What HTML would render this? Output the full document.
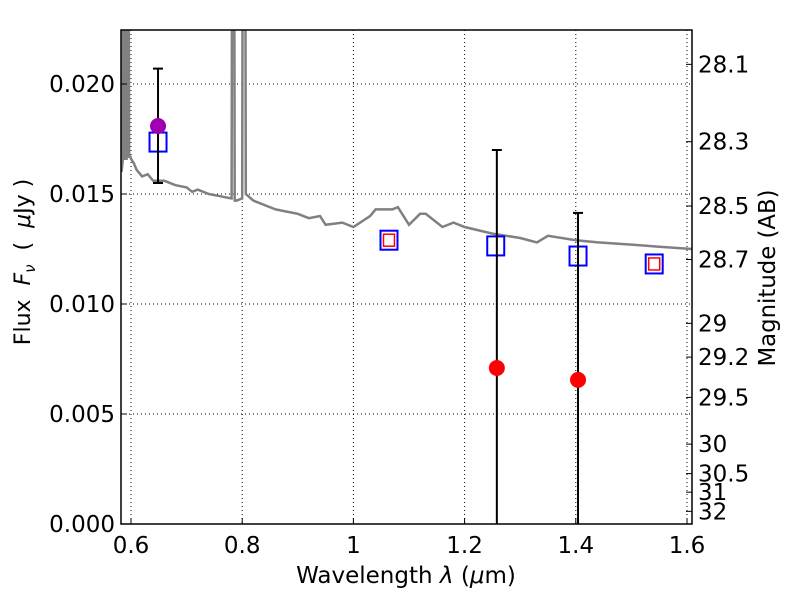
<!DOCTYPE html>
<html><head><meta charset="utf-8"><style>
body{margin:0;background:#fff}
text{font-family:"DejaVu Sans","Liberation Sans",sans-serif;fill:#000}
</style></head><body>
<svg id="chart" width="800" height="600" xmlns="http://www.w3.org/2000/svg"></svg>
<script>
const specWave=[0.583,0.585,0.5855,0.589,0.5895,0.592,0.5925,0.596,0.5965,0.599,0.600,0.605,0.61,0.62,0.63,0.64,0.66,0.68,0.70,0.71,0.72,0.74,0.76,0.78,0.781,0.7815,0.786,0.7865,0.79,0.80,0.8005,0.806,0.8065,0.82,0.84,0.86,0.88,0.90,0.92,0.94,0.95,0.98,1.0,1.03,1.04,1.07,1.08,1.10,1.12,1.13,1.16,1.18,1.20,1.25,1.30,1.33,1.35,1.40,1.44,1.50,1.55,1.609];
const specFlux=[0.0160,0.0165,0.0225,0.0225,0.0166,0.0166,0.0225,0.0225,0.0167,0.0167,0.0166,0.0164,0.0161,0.0158,0.0159,0.0156,0.0156,0.0154,0.0153,0.0151,0.0152,0.0150,0.0149,0.0148,0.0148,0.0225,0.0225,0.0147,0.0147,0.0148,0.0225,0.0225,0.0150,0.0147,0.0145,0.0143,0.0142,0.0141,0.0139,0.0140,0.0136,0.0137,0.0135,0.0140,0.0143,0.0143,0.0144,0.0136,0.0141,0.0141,0.0135,0.0137,0.0135,0.0132,0.0130,0.0128,0.0131,0.0129,0.0128,0.0127,0.0126,0.0125];
const modelWave=[0.6486,1.064,1.256,1.404,1.541];
const modelFlux=[0.01736,0.0129,0.01264,0.01218,0.01182];
const redSqWave=[1.064,1.541];
const redSqFlux=[0.0129,0.01182];
const obsWave=[0.6486,1.258,1.404];
const obsFlux=[0.01809,0.00709,0.00655];
const obsHi=[0.0207,0.0170,0.01414];
const obsLo=[0.0155,-0.001,-0.001];
const obsColor=['#a000b0','red','red'];
const xTicks=[0.6,0.8,1.0,1.2,1.4,1.6];
const xTickLabels=['0.6','0.8','1','1.2','1.4','1.6'];
const yTicks=[0,0.005,0.01,0.015,0.02];
const yTickLabels=['0.000','0.005','0.010','0.015','0.020'];
const magTicks=[28.1,28.3,28.5,28.7,29,29.2,29.5,30,30.5,31,32];
const magLabels=['28.1','28.3','28.5','28.7','29','29.2','29.5','30','30.5','31','32'];

const L=121,R=692,T=30,B=524;
const X=w=>131+(w-0.6)*556;
const Y=f=>B-f*22000;
const svg=document.getElementById('chart');
const NS='http://www.w3.org/2000/svg';
function mk(tag,attrs,parent){const e=document.createElementNS(NS,tag);for(const k in attrs)e.setAttribute(k,attrs[k]);(parent||svg).appendChild(e);return e;}
const defs=mk('defs',{});const cp=mk('clipPath',{id:'clip'},defs);mk('rect',{x:L,y:T,width:R-L,height:B-T},cp);
const plot=mk('g',{'clip-path':'url(#clip)'});


xTicks.forEach((t,i)=>{const g=mk('line',{x1:X(t),x2:X(t),y1:T,y2:B,stroke:'#000','stroke-width':1,'stroke-dasharray':'1,3'},plot);


mk('line',{x1:X(t),x2:X(t),y1:B,y2:B-6,stroke:'#000'});
const tx=mk('text',{x:X(t),y:B+29,'text-anchor':'middle','font-size':23});tx.textContent=xTickLabels[i];

});
yTicks.forEach((t,i)=>{const g=mk('line',{x1:L,x2:R,y1:Y(t),y2:Y(t),stroke:'#000','stroke-width':1,'stroke-dasharray':'1,3'},plot);


mk('line',{x1:L,x2:L+6,y1:Y(t),y2:Y(t),stroke:'#000'});
const tx=mk('text',{x:L-6,y:Y(t)+8,'text-anchor':'end','font-size':23});tx.textContent=yTickLabels[i];

});
magTicks.forEach((m,i)=>{const f=Math.pow(10,(23.9-m)/2.5);const y=Y(f);
mk('line',{x1:R-6,x2:R,y1:y,y2:y,stroke:'#000'});
const tx=mk('text',{x:R+6,y:y+8,'font-size':23});tx.textContent=magLabels[i];

});
const pts=specWave.map((w,i)=>X(w).toFixed(1)+','+Y(specFlux[i]).toFixed(1)).join(' ');
const sp=mk('polyline',{points:pts,fill:'none',stroke:'#808080','stroke-width':2.5},plot);


modelWave.forEach((w,i)=>{const r=mk('rect',{x:X(w)-8.5,y:Y(modelFlux[i])-9.5,width:17,height:19,fill:'none',stroke:'blue','stroke-width':2},plot);

});
redSqWave.forEach((w,i)=>{const r=mk('rect',{x:X(w)-5.5,y:Y(redSqFlux[i])-6,width:11,height:12,fill:'none',stroke:'red','stroke-width':1.5},plot);

});
obsWave.forEach((w,i)=>{const x=X(w);
const e=mk('line',{x1:x,x2:x,y1:Y(obsHi[i]),y2:Y(obsLo[i]),stroke:'#000','stroke-width':2},plot);


mk('line',{x1:x-5,x2:x+5,y1:Y(obsHi[i]),y2:Y(obsHi[i]),stroke:'#000','stroke-width':2},plot);
if(obsLo[i]>0)mk('line',{x1:x-5,x2:x+5,y1:Y(obsLo[i]),y2:Y(obsLo[i]),stroke:'#000','stroke-width':2},plot);
const c=mk('circle',{cx:x,cy:Y(obsFlux[i]),r:8,fill:obsColor[i]},plot);

});
const fr=mk('rect',{x:L,y:T,width:R-L,height:B-T,fill:'none',stroke:'#000','stroke-width':1.5});


</script>
<svg style="position:absolute;left:0;top:0" width="800" height="600">
<text x="406" y="583" text-anchor="middle" font-size="23" style="font-family:'DejaVu Sans',sans-serif">Wavelength  <tspan font-style="italic">λ</tspan> (<tspan font-style="italic">μ</tspan>m)</text>
<text transform="translate(30,262) rotate(-90)" text-anchor="middle" font-size="22" style="font-family:'DejaVu Sans',sans-serif" xml:space="preserve">Flux  <tspan font-style="italic">F</tspan><tspan font-style="italic" font-size="15" dy="5">ν</tspan><tspan dy="-5">  (  </tspan><tspan font-style="italic">μ</tspan>Jy )</text>
<text transform="translate(775,278) rotate(-90)" text-anchor="middle" font-size="22.8" style="font-family:'DejaVu Sans',sans-serif">Magnitude (AB)</text>
</svg>
</body></html>
